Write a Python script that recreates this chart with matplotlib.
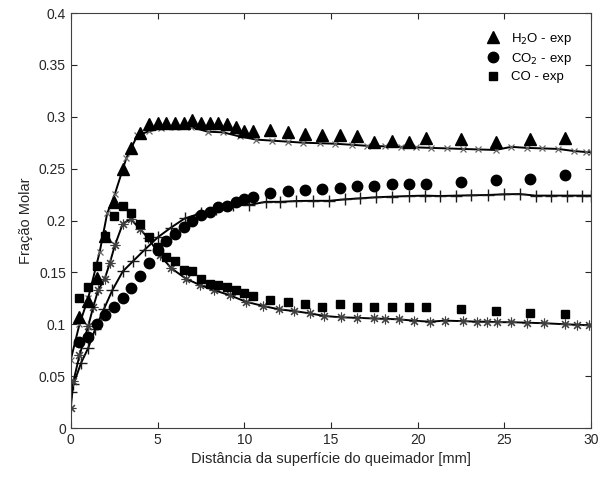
import numpy as np
import matplotlib
matplotlib.use('Agg')
import matplotlib.pyplot as plt

plt.rcParams['font.family'] = ['Liberation Sans', 'DejaVu Sans']

# experimental points
x_h2o_exp = [0.5, 1, 1.5, 2, 2.5, 3, 3.5, 4, 4.5, 5, 5.5, 6, 6.5, 7, 7.5, 8, 8.5, 9, 9.5, 10,
             10.5, 11.5, 12.5, 13.5, 14.5, 15.5, 16.5, 17.5, 18.5, 19.5, 20.5, 22.5, 24.5, 26.5, 28.5]
y_h2o_exp = [0.107, 0.122, 0.145, 0.185, 0.218, 0.25, 0.27, 0.284, 0.293, 0.294, 0.294, 0.294, 0.294,
             0.297, 0.294, 0.294, 0.294, 0.293, 0.290, 0.286, 0.286, 0.287, 0.285, 0.283, 0.282, 0.282,
             0.281, 0.276, 0.277, 0.276, 0.280, 0.279, 0.276, 0.279, 0.280]

x_co2_exp = x_h2o_exp
y_co2_exp = [0.083, 0.088, 0.100, 0.109, 0.117, 0.125, 0.135, 0.147, 0.159, 0.172, 0.180, 0.187, 0.194,
             0.200, 0.205, 0.208, 0.213, 0.214, 0.218, 0.221, 0.223, 0.227, 0.228, 0.229, 0.230, 0.231,
             0.233, 0.233, 0.235, 0.235, 0.235, 0.237, 0.239, 0.240, 0.244]

x_co_exp = x_h2o_exp
y_co_exp = [0.125, 0.136, 0.156, 0.185, 0.204, 0.214, 0.207, 0.197, 0.184, 0.174, 0.165, 0.161, 0.152,
            0.151, 0.144, 0.139, 0.138, 0.136, 0.133, 0.130, 0.127, 0.123, 0.121, 0.120, 0.117, 0.1195,
            0.117, 0.117, 0.117, 0.117, 0.117, 0.115, 0.113, 0.111, 0.110]

# model curves
x_h2o_mod = [0, 0.5, 1.0, 1.67, 2.1, 2.54, 3.2, 3.84, 4.5, 5.23, 6.0, 6.96, 7.9, 8.78, 9.74, 10.7,
             11.6, 12.5, 13.4, 14.35, 15.25, 16.2, 17.1, 18.1, 19.05, 19.9, 20.8, 21.7, 22.6, 23.5,
             24.5, 25.4, 26.3, 27.2, 28.1, 29.0, 29.7, 30]
y_h2o_mod = [0.066, 0.100, 0.125, 0.170, 0.207, 0.2255, 0.260, 0.282, 0.286, 0.289, 0.2905, 0.290,
             0.2856, 0.285, 0.281, 0.278, 0.277, 0.276, 0.275, 0.2745, 0.274, 0.273, 0.272, 0.2715,
             0.271, 0.2705, 0.270, 0.2695, 0.269, 0.2685, 0.268, 0.271, 0.270, 0.2695, 0.269, 0.267,
             0.266, 0.266]

x_co2_mod = [0, 0.15, 0.6, 1.0, 1.4, 1.92, 2.4, 3.0, 3.6, 4.27, 5.03, 5.76, 6.57, 7.5, 8.4, 9.35,
             10.28, 11.24, 12.09, 13.0, 13.97, 14.9, 15.8, 16.7, 17.6, 18.5, 19.5, 20.4, 21.3, 22.2,
             23.1, 24.05, 25.0, 25.9, 26.8, 27.7, 28.6, 29.5, 30]
y_co2_mod = [0.035, 0.042, 0.063, 0.077, 0.095, 0.115, 0.133, 0.151, 0.161, 0.172, 0.184, 0.193,
             0.202, 0.207, 0.211, 0.2145, 0.215, 0.218, 0.218, 0.2188, 0.219, 0.219, 0.2204, 0.2214,
             0.2224, 0.223, 0.2236, 0.224, 0.2236, 0.224, 0.2243, 0.2246, 0.2253, 0.2255, 0.224,
             0.224, 0.224, 0.224, 0.224]

x_co_mod = [0, 0.15, 0.5, 1.0, 1.3, 1.58, 1.96, 2.25, 2.54, 3.0, 3.45, 3.98, 4.46, 5.13, 5.8, 6.63,
            7.43, 8.24, 9.16, 10.1, 11.1, 12.0, 12.85, 13.8, 14.6, 15.6, 16.5, 17.46, 18.1, 18.9,
            19.8, 20.7, 21.6, 22.6, 23.4, 24.0, 24.6, 25.4, 26.3, 27.3, 28.5, 29.2, 29.9]
y_co_mod = [0.0196, 0.045, 0.070, 0.098, 0.117, 0.133, 0.144, 0.159, 0.176, 0.197, 0.2015, 0.192,
            0.183, 0.1667, 0.154, 0.144, 0.138, 0.133, 0.128, 0.1217, 0.1176, 0.1144, 0.1128, 0.1105,
            0.108, 0.1067, 0.1062, 0.1056, 0.1052, 0.1048, 0.1034, 0.1025, 0.1035, 0.103, 0.1025,
            0.1025, 0.102, 0.102, 0.1015, 0.101, 0.100, 0.0995, 0.099]

fig = plt.figure(figsize=(6, 4.82), dpi=100)
ax = fig.add_axes([0.118, 0.112, 0.867, 0.861])

ax.plot(x_h2o_mod, y_h2o_mod, '-', color='k', lw=1.4, marker='x', ms=5, mec='0.4', mew=0.9)
ax.plot(x_co2_mod, y_co2_mod, '-', color='k', lw=1.4, marker='+', ms=8, mec='0.1', mew=1.0)
ax.plot(x_co_mod, y_co_mod, '-', color='k', lw=1.4, marker=(8, 2, 0), ms=7, mec='0.25', mew=0.8)

h1, = ax.plot(x_h2o_exp, y_h2o_exp, '^', color='k', ms=8, ls='none', label='H$_2$O - exp')
h2, = ax.plot(x_co2_exp, y_co2_exp, 'o', color='k', ms=7.5, ls='none', label='CO$_2$ - exp')
h3, = ax.plot(x_co_exp, y_co_exp, 's', color='k', ms=6, ls='none', label='CO - exp')

ax.set_xlim(0, 30)
ax.set_ylim(0, 0.4)
ax.set_xticks(np.arange(0, 31, 5))
ax.set_yticks(np.arange(0, 0.41, 0.05))
ax.set_yticklabels(['0', '0.05', '0.1', '0.15', '0.2', '0.25', '0.3', '0.35', '0.4'])
ax.tick_params(direction='in', top=True, right=True, labelsize=10, colors='0.15', length=4)
for s in ax.spines.values():
    s.set_color('0.25')
ax.set_xlabel('Distância da superfície do queimador [mm]', fontsize=10.5, color='0.15')
ax.set_ylabel('Fração Molar', fontsize=10.5, color='0.15')

ax.legend(handles=[h1, h2, h3], loc='upper right', frameon=False, fontsize=9.5,
          bbox_to_anchor=(0.985, 0.985), handletextpad=0.6, labelspacing=0.3,
          handlelength=1.5)

fig.savefig('out.png', dpi=100)
